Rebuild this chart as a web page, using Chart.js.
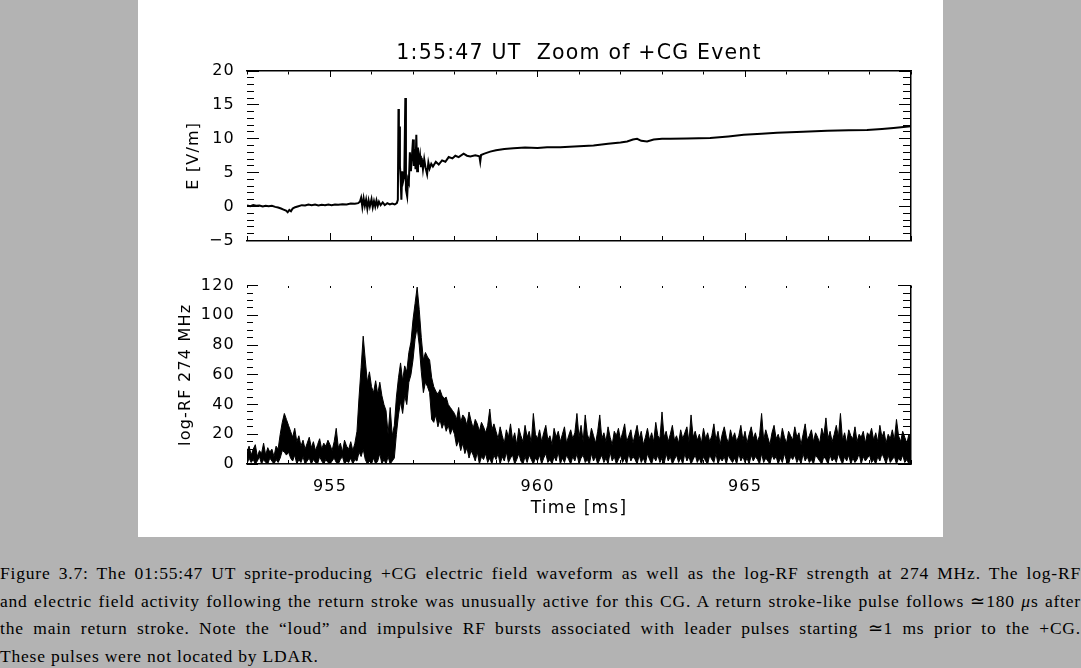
<!DOCTYPE html>
<html>
<head>
<meta charset="utf-8">
<script src="https://cdn.jsdelivr.net/npm/chart.js@4"></script>
<style>
  body { margin: 0; width: 1081px; height: 668px; overflow: hidden; background: #b3b3b3; }
  #panel { position: absolute; left: 138px; top: 0; width: 805px; height: 537px; background: #fff; }
  #eChart { position: absolute; left: 138px; top: 0; }
  #rfChart { position: absolute; left: 138px; top: 262px; }
  #caption { position: absolute; left: 0; top: 560px; width: 1081px;
    font-family: "Liberation Serif", serif; font-size: 17.5px; letter-spacing: 0.8px;
    line-height: 27.6px; color: #000; }
  .ln { text-align: justify; text-align-last: justify; }
  .ln.last { text-align-last: left; }
</style>
</head>
<body>
<div id="panel"></div>
<canvas id="eChart" width="805" height="262"></canvas>
<canvas id="rfChart" width="805" height="275"></canvas>
<div id="caption">
  <div class="ln">Figure 3.7: The 01:55:47 UT sprite-producing +CG electric field waveform as well as the log-RF strength at 274 MHz. The log-RF</div>
  <div class="ln">and electric field activity following the return stroke was unusually active for this CG. A return stroke-like pulse follows ≃180 <i>μ</i>s after</div>
  <div class="ln">the main return stroke. Note the “loud” and impulsive RF bursts associated with leader pulses starting ≃1 ms prior to the +CG.</div>
  <div class="ln last">These pulses were not located by LDAR.</div>
</div>
<script>
// ------------------- Data ------------------- //

// time axis [ms] and tick labels
const timeRange = [953, 969];
const timeTicks = [955, 960, 965];
const eTicks = [-5, 0, 5, 10, 15, 20];
const rfTicks = [0, 20, 40, 60, 80, 100, 120];

// electric field trace (time [ms], E [V/m])
const eTime = [
  953.00, 953.08, 953.15, 953.22, 953.30, 953.38, 953.45, 953.52, 953.60, 953.68,
  953.75, 953.82, 953.88, 953.94, 953.98, 954.02, 954.06, 954.10, 954.16, 954.24,
  954.32, 954.40, 954.48, 954.56, 954.64, 954.72, 954.80, 954.88, 954.96, 955.04,
  955.12, 955.20, 955.30, 955.40, 955.50, 955.60, 955.68, 955.72, 955.75, 955.78,
  955.81, 955.84, 955.87, 955.90, 955.93, 955.96, 956.00, 956.03, 956.06, 956.09,
  956.12, 956.15, 956.18, 956.22, 956.27, 956.32, 956.38, 956.44, 956.50, 956.56,
  956.61, 956.635, 956.65, 956.66, 956.67, 956.685, 956.70, 956.72, 956.74, 956.765,
  956.79, 956.815, 956.83, 956.86, 956.88, 956.90, 956.925, 956.95, 956.975, 957.00,
  957.02, 957.04, 957.06, 957.08, 957.10, 957.12, 957.14, 957.17, 957.19, 957.21,
  957.24, 957.27, 957.30, 957.34, 957.37, 957.40, 957.44, 957.48, 957.55, 957.62,
  957.70, 957.78, 957.86, 957.95, 958.02, 958.10, 958.22, 958.30, 958.38, 958.50,
  958.60, 958.62, 958.64, 958.72, 958.86, 959.00, 959.20, 959.42, 959.70, 960.00,
  960.23, 960.55, 961.00, 961.35, 961.70, 962.00, 962.16, 962.30, 962.40, 962.50,
  962.64, 962.80, 963.00, 963.20, 963.60, 964.16, 964.60, 964.97, 965.40, 965.77,
  966.40, 966.98, 967.50, 967.94, 968.30, 968.58, 969.00
];
const eField = [
  0.15, 0.05, 0.2, 0.1, 0.15, 0.0, 0.12, 0.05, 0.1, -0.05,
  -0.15, -0.3, -0.45, -0.6, -0.85, -0.5, -0.7, -0.3, -0.1, 0.05,
  0.2, 0.15, 0.3, 0.2, 0.3, 0.15, 0.25, 0.2, 0.3, 0.2,
  0.3, 0.25, 0.35, 0.3, 0.45, 0.4, 0.5, 0.7, 1.3, -0.1,
  1.2, 0.1, 1.0, -0.3, 0.9, 0.0, 1.1, -0.1, 0.8, 0.0,
  0.9, 0.1, 0.7, 0.2, 0.6, 0.2, 0.5, 0.3, 0.45, 0.3,
  0.5, 1.0, 14.4, 9.5, 11.8, 6.0, 4.5, 1.0, 5.2, 3.8,
  4.5, 16.0, 2.5, 1.5, 4.0, 3.6, 8.0, 5.2, 7.5, 9.9,
  6.0, 8.5, 5.5, 10.6, 5.2, 8.7, 6.2, 7.5, 5.8, 7.2,
  5.5, 7.0, 5.8, 4.75, 6.5, 5.6, 6.3, 5.9, 6.6, 6.2,
  6.8, 6.6, 7.3, 7.1, 7.5, 7.3, 7.8, 7.5, 7.4, 7.55,
  7.4, 6.6, 7.6, 7.8, 8.1, 8.3, 8.5, 8.6, 8.7, 8.65,
  8.75, 8.75, 8.9, 9.0, 9.25, 9.45, 9.6, 9.9, 10.0, 9.7,
  9.6, 9.9, 10.0, 10.0, 10.05, 10.1, 10.35, 10.6, 10.75, 10.9,
  11.05, 11.2, 11.25, 11.3, 11.45, 11.6, 11.85
];

// log-RF 274 MHz, sampled every 0.05 ms from 953.00 ms: upper and lower edge of the trace
const rfStart = 953.0;
const rfStep = 0.05;
const rfHigh = [
  8, 12, 6, 10, 13, 5, 9, 7, 14, 6, 11, 8, 10, 5, 12, 10, 20, 28, 34, 30,
  26, 22, 18, 24, 15, 19, 12, 16, 10, 14, 18, 11, 15, 9, 13, 17, 10, 14, 12, 16,
  13, 9, 15, 24, 11, 14, 8, 16, 12, 10, 15, 9, 14, 22, 45, 65, 86, 70, 55, 62,
  52, 48, 56, 47, 55, 46, 40, 36, 20, 38, 19, 26, 45, 58, 68, 56, 66, 62, 75, 82,
  97, 108, 119, 104, 85, 70, 75, 72, 70, 58, 52, 49, 47, 50, 46, 44, 45, 40, 38, 36,
  34, 30, 38, 28, 33, 31, 26, 35, 29, 24, 30, 27, 22, 28, 25, 21, 26, 37, 23, 27,
  22, 17, 25, 19, 14, 23, 18, 27, 16, 21, 13, 24, 19, 15, 26, 18, 22, 14, 34, 20,
  17, 23, 15, 21, 26, 16, 19, 13, 24, 18, 22, 15, 20, 25, 14, 19, 23, 17, 21, 34,
  18, 26, 15, 33, 20, 16, 24, 19, 14, 22, 33, 17, 21, 15, 25, 18, 13, 22, 19, 24,
  16, 21, 27, 15, 19, 23, 14, 20, 26, 17, 22, 13, 18, 24, 16, 21, 15, 28, 19, 17,
  35, 18, 22, 15, 20, 26, 16, 19, 14, 23, 17, 21, 25, 15, 33, 18, 22, 16, 20, 14,
  24, 17, 21, 15, 19, 27, 16, 22, 13, 20, 25, 18, 14, 23, 17, 21, 15, 19, 26, 16,
  22, 14, 20, 25, 17, 21, 15, 19, 34, 16, 23, 18, 13, 21, 26, 17, 20, 15, 24, 18,
  14, 22, 19, 16, 25, 18, 21, 13, 20, 27, 16, 19, 23, 15, 21, 18, 14, 24, 19, 31,
  17, 22, 15, 20, 26, 18, 34, 16, 21, 14, 23, 19, 17, 25, 15, 20, 18, 22, 14, 21,
  19, 24, 16, 21, 15, 26, 18, 22, 14, 20, 17, 23, 16, 30, 19, 15, 22, 18, 14, 20, 16
];
const rfLow = [
  0, 4, 1, 3, 0, 2, 5, 0, 3, 1, 0, 4, 2, 0, 3, 1, 4, 9, 8, 6,
  8, 4, 2, 6, 0, 3, 1, 5, 0, 2, 4, 0, 3, 1, 0, 5, 2, 0, 3, 1,
  0, 2, 4, 1, 0, 3, 5, 0, 2, 1, 4, 0, 3, 2, 8, 5, 10, 3, 0, 2,
  0, 4, 0, 2, 7, 0, 3, 0, 5, 0, 2, 4, 20, 33, 42, 34, 46, 40, 55, 60,
  70, 84, 92, 80, 62, 48, 55, 52, 48, 30, 28, 33, 25, 30, 24, 28, 22, 26, 20, 24,
  20, 12, 16, 9, 14, 7, 11, 4, 9, 6, 2, 8, 0, 5, 3, 7, 1, 4, 0, 6,
  3, 7, 0, 5, 2, 8, 1, 4, 6, 0, 3, 7, 2, 0, 5, 1, 6, 3, 0, 4,
  2, 6, 0, 4, 7, 1, 3, 0, 5, 2, 8, 0, 4, 1, 6, 3, 0, 5, 2, 7,
  0, 4, 6, 1, 3, 0, 7, 2, 5, 0, 3, 6, 1, 4, 0, 8, 2, 5, 0, 3,
  6, 1, 4, 0, 7, 2, 5, 3, 0, 6, 1, 4, 0, 7, 3, 0, 5, 2, 6, 1,
  4, 0, 7, 2, 5, 0, 3, 6, 1, 4, 0, 7, 2, 5, 0, 3, 6, 1, 4, 0,
  5, 2, 0, 6, 3, 1, 7, 0, 4, 2, 5, 0, 6, 3, 1, 4, 0, 7, 2, 5,
  1, 4, 0, 6, 2, 5, 3, 0, 7, 1, 4, 2, 0, 6, 3, 5, 0, 4, 1, 7,
  2, 0, 5, 3, 6, 1, 4, 0, 7, 2, 5, 1, 3, 0, 6, 4, 2, 0, 5, 3,
  0, 6, 2, 4, 1, 7, 3, 0, 5, 2, 6, 0, 4, 1, 3, 7, 0, 5, 2, 4,
  6, 1, 3, 0, 5, 2, 7, 4, 0, 6, 1, 3, 5, 0, 4, 2, 6, 1, 3, 0, 5
];

// ------------------- Helper Functions ------------------- //

Chart.defaults.font.family = "'DejaVu Sans', sans-serif";
Chart.defaults.color = "#000";

// wide lettering like the plot's vector font
const wideText = {
  id: "wideText",
  beforeDraw(chart) {
    chart.ctx.letterSpacing = "1.2px";
  },
};

// sample time of the i-th RF value
function rfTime(i) {
  return Math.round((rfStart + i * rfStep) * 100) / 100;
}

// IDL style minus sign
function fmtTick(v) {
  return v < 0 ? "\u2212" + Math.abs(v) : String(v);
}

// an axis that only draws tick marks (pointing into the plot) on one edge
function tickAxis(axis, pos, range, step, len, border) {
  return {
    type: "linear",
    axis: axis,
    position: pos,
    min: range[0],
    max: range[1],
    afterFit: (s) => {
      if (axis === "x") s.height = 0;
      else s.width = 0;
    },
    ticks: { display: false, stepSize: step, includeBounds: false, autoSkip: false, maxTicksLimit: 1000 },
    grid: { drawOnChartArea: false, drawTicks: true, tickLength: len, tickColor: "#000", tickWidth: 1 },
    border: { display: border, color: "#000", width: 1.5 },
  };
}

// fixed list of labelled ticks
function fixedTicks(list) {
  return (s) => {
    s.ticks = list.map((v) => ({ value: v }));
  };
}

// ------------------- Charts ------------------- //

const eRange = [eTicks[0], eTicks[eTicks.length - 1]];
const rfRange = [rfTicks[0], rfTicks[rfTicks.length - 1]];

new Chart(document.getElementById("eChart"), {
  type: "line",
  plugins: [wideText],
  data: {
    datasets: [
      {
        data: eTime.map((t, i) => ({ x: t, y: eField[i] })),
        borderColor: "#000",
        borderWidth: 2,
        pointRadius: 0,
        tension: 0,
        fill: false,
      },
    ],
  },
  options: {
    responsive: false,
    animation: false,
    layout: { padding: { left: 0, right: 32, top: 0, bottom: 0 } },
    plugins: {
      legend: { display: false },
      tooltip: { enabled: false },
      title: {
        display: true,
        fullSize: false,
        text: "1:55:47 UT  Zoom of +CG Event",
        color: "#000",
        font: { size: 20.5, weight: "normal" },
        padding: { top: 41, bottom: 5.4 },
      },
    },
    scales: {
      x: {
        type: "linear",
        position: "bottom",
        min: timeRange[0],
        max: timeRange[1],
        afterBuildTicks: fixedTicks(timeTicks),
        ticks: { display: false },
        grid: { drawOnChartArea: false, drawTicks: false },
        border: { display: true, color: "#000", width: 1.5 },
        afterFit: (s) => { s.height = 12; },
      },
      y: {
        type: "linear",
        position: "left",
        min: eRange[0],
        max: eRange[1],
        afterBuildTicks: fixedTicks(eTicks),
        ticks: { color: "#000", font: { size: 16 }, padding: 12, callback: fmtTick },
        grid: { drawOnChartArea: false, drawTicks: false },
        border: { display: false },
        title: { display: true, text: "E [V/m]", color: "#000", font: { size: 16 }, padding: { top: 46, bottom: 0 } },
        afterFit: (s) => { s.width = 109; },
      },
      xTopMinor: tickAxis("x", { y: eRange[1] }, timeRange, 1, 3, true),
      xTopMajor: tickAxis("x", { y: eRange[1] }, timeRange, 5, 6, false),
      xBotMinor: tickAxis("x", { y: eRange[0] }, timeRange, 1, -4, false),
      xBotMajor: tickAxis("x", { y: eRange[0] }, timeRange, 5, -7, false),
      yLeftMinor: tickAxis("y", { x: timeRange[0] }, eRange, 1, -7, false),
      yLeftMajor: tickAxis("y", { x: timeRange[0] }, eRange, 5, -12, false),
      yRightMinor: tickAxis("y", { x: timeRange[1] }, eRange, 1, 7, true),
      yRightMajor: tickAxis("y", { x: timeRange[1] }, eRange, 5, 12, false),
    },
  },
});

new Chart(document.getElementById("rfChart"), {
  type: "line",
  plugins: [wideText],
  data: {
    datasets: [
      {
        data: rfHigh.map((v, i) => ({ x: rfTime(i), y: v })),
        borderColor: "#000",
        backgroundColor: "#000",
        borderWidth: 1,
        pointRadius: 0,
        tension: 0,
        fill: "+1",
      },
      {
        data: rfLow.map((v, i) => ({ x: rfTime(i), y: v })),
        borderColor: "#000",
        borderWidth: 1,
        pointRadius: 0,
        tension: 0,
        fill: false,
      },
    ],
  },
  options: {
    responsive: false,
    animation: false,
    layout: { padding: { left: 0, right: 32, top: 23.6, bottom: 0 } },
    plugins: {
      legend: { display: false },
      tooltip: { enabled: false },
    },
    scales: {
      x: {
        type: "linear",
        position: "bottom",
        min: timeRange[0],
        max: timeRange[1],
        afterBuildTicks: fixedTicks(timeTicks),
        ticks: { color: "#000", font: { size: 16 }, padding: 13, autoSkip: false, maxRotation: 0 },
        grid: { drawOnChartArea: false, drawTicks: false },
        border: { display: true, color: "#000", width: 1.5 },
        title: { display: true, text: "Time [ms]", color: "#000", font: { size: 17 }, padding: { top: 0, bottom: 18 } },
        afterFit: (s) => { s.height = 73; },
      },
      y: {
        type: "linear",
        position: "left",
        min: rfRange[0],
        max: rfRange[1],
        afterBuildTicks: fixedTicks(rfTicks),
        ticks: { color: "#000", font: { size: 16 }, padding: 12 },
        grid: { drawOnChartArea: false, drawTicks: false },
        border: { display: false },
        title: { display: true, text: "log-RF 274 MHz", color: "#000", font: { size: 16 }, padding: { top: 38, bottom: 0 } },
        afterFit: (s) => { s.width = 109; },
      },
      xTopMinor: tickAxis("x", { y: rfRange[1] }, timeRange, 1, 2, false),
      xBotMinor: tickAxis("x", { y: rfRange[0] }, timeRange, 1, -4, false),
      xBotMajor: tickAxis("x", { y: rfRange[0] }, timeRange, 5, -7, false),
      yLeftMinor: tickAxis("y", { x: timeRange[0] }, rfRange, 5, -6, false),
      yLeftMajor: tickAxis("y", { x: timeRange[0] }, rfRange, 20, -11, false),
      yRightMinor: tickAxis("y", { x: timeRange[1] }, rfRange, 5, 7, true),
      yRightMajor: tickAxis("y", { x: timeRange[1] }, rfRange, 20, 13, false),
    },
  },
});
</script>
</body>
</html>
